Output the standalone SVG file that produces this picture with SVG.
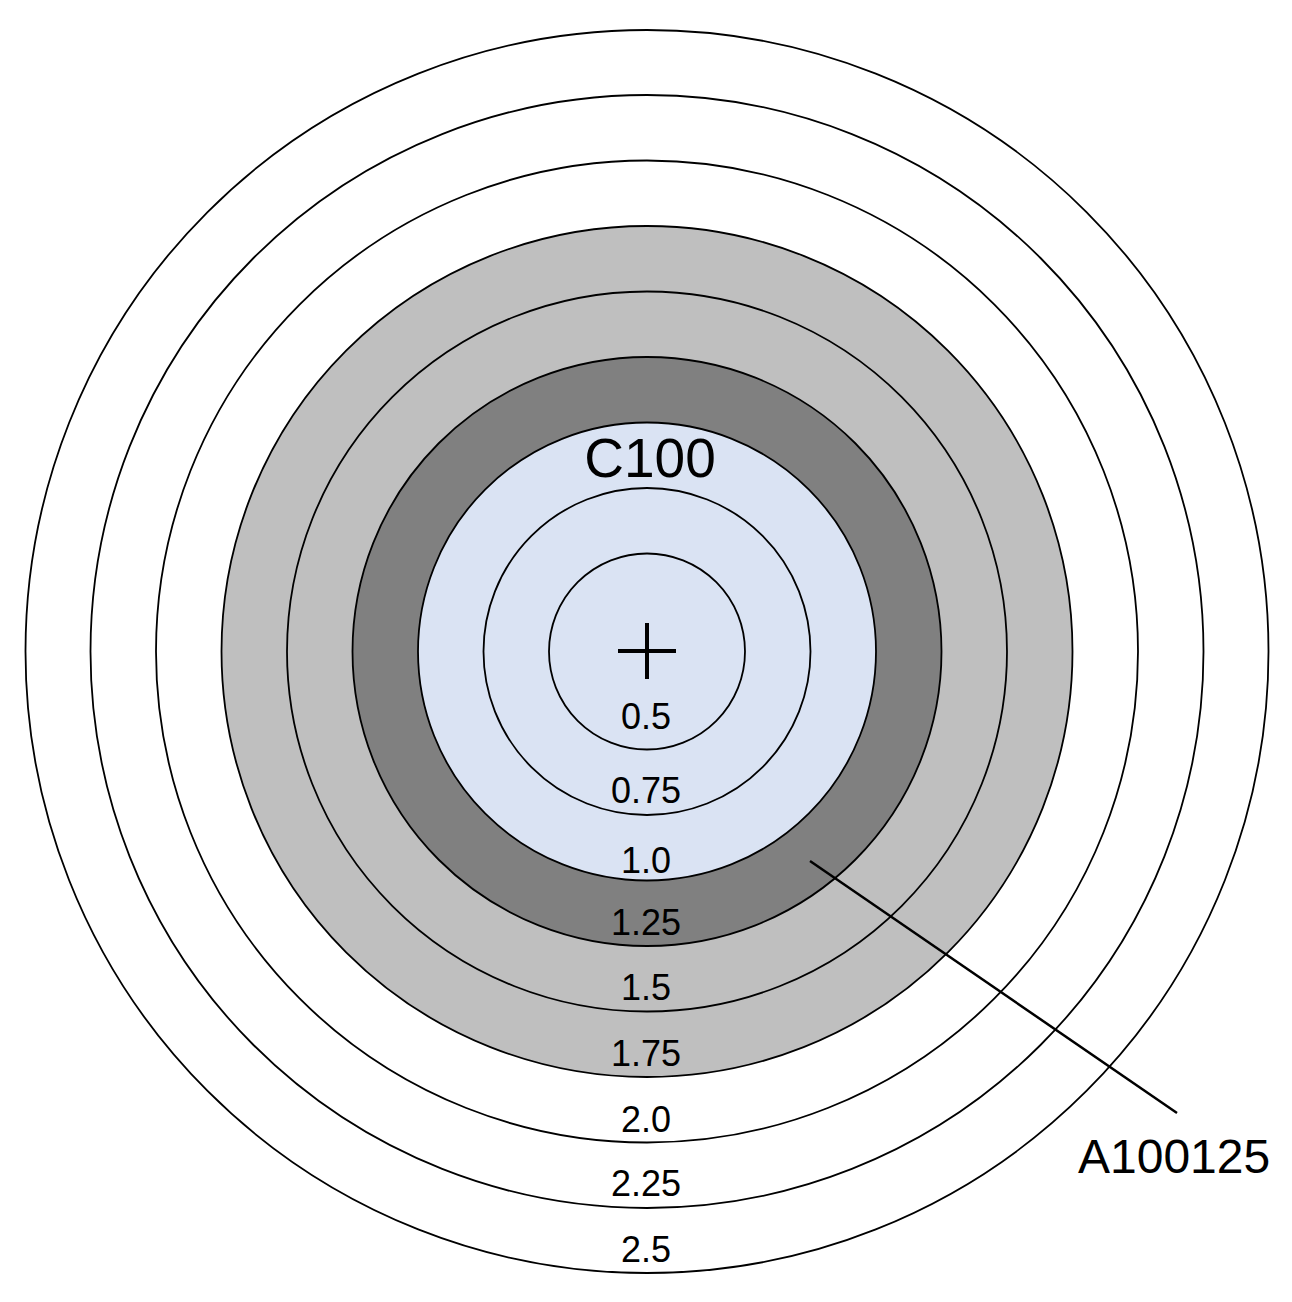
<svg xmlns="http://www.w3.org/2000/svg" width="1292" height="1302" viewBox="0 0 1292 1302">
<style>
.ring{stroke:#000;stroke-width:1.8}
.w{fill:#ffffff}.lg{fill:#bfbfbf}.dg{fill:#808080}.lb{fill:#dae3f3}
.lbl{font-family:"Liberation Sans",Arial,sans-serif;font-size:36px;fill:#000;text-anchor:middle}
</style>
<rect width="1292" height="1302" fill="#ffffff"/>
<g id="r250"><circle class="ring w" cx="647" cy="651.5" r="621.5"/></g>
<g id="r225"><circle class="ring w" cx="647" cy="651.5" r="556.5"/></g>
<g id="r200"><circle class="ring w" cx="647" cy="651.5" r="491"/></g>
<g id="r175"><circle class="ring lg" cx="647" cy="651.5" r="425.5"/></g>
<g id="r150"><circle class="ring lg" cx="647" cy="651.5" r="360"/></g>
<g id="r125"><circle class="ring dg" cx="647" cy="651.5" r="294.5"/></g>
<g id="r100"><circle class="ring lb" cx="647" cy="651.5" r="229"/></g>
<g id="r075"><circle class="ring lb" cx="647" cy="651.5" r="163.5"/></g>
<g id="r050"><circle class="ring lb" cx="647" cy="651.5" r="98"/></g>
<g id="center" stroke="#000" stroke-width="4">
<line x1="618" y1="651" x2="676" y2="651"/>
<line x1="647" y1="623" x2="647" y2="679"/>
</g>
<g id="labels">
<text class="lbl" x="646" y="729">0.5</text>
<text class="lbl" x="646" y="803">0.75</text>
<text class="lbl" x="646" y="873">1.0</text>
<text class="lbl" x="646" y="935">1.25</text>
<text class="lbl" x="646" y="1000">1.5</text>
<text class="lbl" x="646" y="1066">1.75</text>
<text class="lbl" x="646" y="1132">2.0</text>
<text class="lbl" x="646" y="1196">2.25</text>
<text class="lbl" x="646" y="1262">2.5</text>
<text x="650" y="477" font-family="Liberation Sans, Arial, sans-serif" font-size="55" text-anchor="middle">C100</text>
</g>
<g id="connectors">
<line x1="810" y1="861" x2="1177" y2="1113" stroke="#000" stroke-width="2.5"/>
</g>
<g id="callout">
<text x="1078" y="1173" font-family="Liberation Sans, Arial, sans-serif" font-size="48">A100125</text>
</g>
</svg>
